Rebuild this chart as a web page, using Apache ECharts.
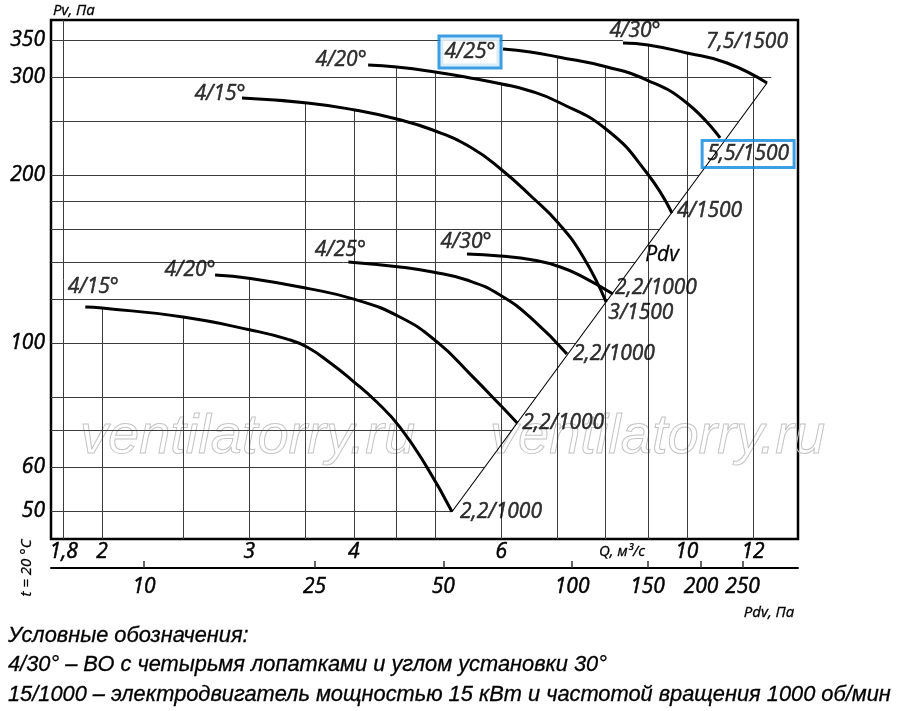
<!DOCTYPE html>
<html>
<head>
<meta charset="utf-8">
<script src="https://cdn.jsdelivr.net/npm/echarts@6/dist/echarts.min.js"></script>
<style>
  html, body { margin: 0; padding: 0; background: #fff; }
  #chart { width: 900px; height: 711px; }
</style>
</head>
<body>
<div id="chart"></div>
<script>
// fan curves, Q in m3/s, Pv in Pa (lower group 2,2 kW, upper group 1500 rpm)
const qL15 = [1.91, 2.0, 2.5, 3.01, 3.33, 3.52, 3.75, 3.99, 4.26, 4.54, 4.89, 5.24]
const pvL15 = [116.2, 115.7, 111.5, 105.7, 101.8, 98.4, 92.2, 85.6, 78.5, 70.8, 60.0, 49.9]
const qL20 = [2.73, 3.01, 3.52, 4.01, 4.54, 5.03, 5.55, 5.98, 6.27]
const pvL20 = [132.6, 130.7, 125.5, 119.9, 111.5, 100.6, 87.1, 77.6, 72.0]
const qL25 = [3.94, 4.54, 4.97, 5.46, 5.98, 6.55, 7.19]
const pvL25 = [140.0, 137.1, 134.3, 129.9, 122.1, 110.2, 95.7]
const qL30 = [5.46, 5.98, 6.55, 7.06, 7.52, 8.16]
const pvL30 = [144.7, 143.5, 141.1, 137.1, 131.5, 122.6]
const qU15 = [2.94, 3.52, 4.01, 4.50, 4.97, 5.51, 6.01, 6.53, 7.02, 7.52, 8.01]
const pvU15 = [275.4, 269.8, 262.1, 252.5, 241.3, 225.0, 204.6, 183.0, 164.4, 142.9, 118.6]
const qU20 = [4.16, 4.50, 5.00, 5.51, 6.01, 6.50, 7.02, 8.03, 8.96, 9.60]
const pvU20 = [315.6, 313.0, 306.6, 299.1, 291.8, 283.5, 270.9, 241.3, 202.1, 171.3]
const qU25 = [6.03, 6.50, 7.02, 8.03, 8.96, 10.0, 10.96]
const pvU25 = [337.1, 332.9, 326.2, 313.0, 296.6, 269.8, 233.5]
const qU30 = [8.39, 8.99, 10.0, 11.17, 12.47]
const pvU30 = [345.6, 342.8, 331.6, 318.2, 293.0]

const startText = ['4/15°', '4/20°', '4/25°', '4/30°', '4/15°', '4/20°', '4/25°', '4/30°']
const endText = ['2,2/1000', '2,2/1000', '2,2/1000', '2,2/1000', '3/1500', '4/1500', '5,5/1500', '7,5/1500']

// Pdv line ends (Q, Pv)
const pdvQ = [5.24, 12.47]
const pdvPv = [49.9, 293.0]

const qTicks = [1.8, 2, 3, 4, 6, 10, 12]
const pvTicks = [50, 60, 100, 200, 300, 350]
const pdvTicks = [10, 25, 50, 100, 150, 200, 250]

const gridQ = [1.8, 2, 2.5, 3, 3.5, 4, 4.5, 5, 6, 7, 8, 9, 10, 12]
// which curve each vertical rule stops at (-1: runs to the top)
const gridQTop = [-1, 0, 0, 1, 4, 4, 5, 5, 5, 6, 6, 7, 7, 7]
const gridPv = [50, 60, 70, 80, 100, 120, 140, 160, 180, 200, 250, 300, 350]

const Q_MIN = 1.738
const Q_MAX = 13.58
const PV_MIN = 44.6
const PV_MAX = 380
const PDV_MIN = 6.06
const PDV_MAX = 337

const FONT = 'Open Sans'
const lg = Math.log10
const fmt = v => String(Math.round(Math.pow(10, v) * 100) / 100).replace('.', ',')

const curves = [
  [qL15, pvL15], [qL20, pvL20], [qL25, pvL25], [qL30, pvL30],
  [qU15, pvU15], [qU20, pvU20], [qU25, pvU25], [qU30, pvU30]
]

// log-space interpolation along a curve
function pvAt (c, q) {
  const [qs, ps] = c
  for (let i = 1; i < qs.length; i++) {
    if (q >= qs[i - 1] && q <= qs[i]) {
      const t = (lg(q) - lg(qs[i - 1])) / (lg(qs[i]) - lg(qs[i - 1]))
      return Math.pow(10, lg(ps[i - 1]) + t * (lg(ps[i]) - lg(ps[i - 1])))
    }
  }
  return PV_MAX
}

const pdvK = lg(pdvPv[1] / pdvPv[0]) / lg(pdvQ[1] / pdvQ[0])
const qOnPdv = pv => pdvQ[0] * Math.pow(pv / pdvPv[0], 1 / pdvK)

const rules = []
gridQ.forEach((q, i) => {
  const top = gridQTop[i] < 0 ? PV_MAX : pvAt(curves[gridQTop[i]], q)
  rules.push({ coords: [[lg(q), lg(PV_MIN)], [lg(q), lg(top)]] })
})
gridPv.forEach(pv => {
  let qEnd = qOnPdv(pv)
  if (qEnd > Q_MAX) qEnd = qU30[0]
  rules.push({ coords: [[lg(Q_MIN), lg(pv)], [lg(qEnd), lg(pv)]] })
})

const startPlace = [[8, -20], [-25, -5], [-8, -12], [-1, -12], [-22, -4], [-27, -5], [-33, 3], [12, -12]]
const endPlace = [[8, 0], [5, 0], [6, 0], [2, -6], [2, 11], [5, -2], [28, 16], [-61, -41]]
const BOXED = 6

const labelFont = {
  fontSize: 21, fontStyle: 'italic', fontFamily: FONT, color: '#000',
  textBorderColor: '#000', textBorderWidth: 0.5
}
const boxStyle = { borderColor: '#0b87dc', borderWidth: 3 }

const labelData = []
curves.forEach(([qs, ps], i) => {
  const n = qs.length - 1
  const boxed = i === BOXED
  labelData.push({
    value: [lg(qs[0]), lg(ps[0])],
    label: Object.assign({
      show: true, position: 'inside', align: 'center', verticalAlign: 'middle',
      offset: startPlace[i], formatter: startText[i]
    }, labelFont, boxed ? Object.assign({ padding: [4, 4], backgroundColor: '#fff' }, boxStyle) : {})
  })
  labelData.push({
    value: [lg(qs[n]), lg(ps[n])],
    label: Object.assign({
      show: true, position: 'inside', align: boxed ? 'center' : 'left', verticalAlign: 'middle',
      offset: endPlace[i], formatter: endText[i]
    }, labelFont, boxed ? Object.assign({ padding: [3, 5] }, boxStyle) : {})
  })
})

const series = [
  {
    type: 'lines', coordinateSystem: 'cartesian2d', silent: true, z: 1,
    lineStyle: { color: '#3c3c3c', width: 1, opacity: 1 },
    data: rules
  },
  {
    type: 'lines', coordinateSystem: 'cartesian2d', silent: true, z: 2,
    lineStyle: { color: '#000', width: 1.1, opacity: 1 },
    data: [{ coords: [[lg(pdvQ[0]), lg(pdvPv[0])], [lg(pdvQ[1]), lg(pdvPv[1])]] }]
  }
]
curves.forEach(([qs, ps]) => {
  series.push({
    type: 'line', z: 3, smooth: 0.5, showSymbol: false, symbol: 'none', silent: true,
    lineStyle: { color: '#000', width: 3 },
    data: qs.map((q, j) => [lg(q), lg(ps[j])])
  })
})
series.push({
  type: 'scatter', z: 5, silent: true, symbolSize: 1,
  itemStyle: { color: 'rgba(0,0,0,0)' },
  data: labelData
})

const txt = (text, x, y, size, extra, rotation) => ({
  type: 'text', x, y, rotation: rotation || 0, silent: true,
  style: Object.assign({
    text, fill: '#000', stroke: '#000', lineWidth: 0.3,
    fontSize: size, fontStyle: 'italic', fontFamily: FONT,
    align: 'center', verticalAlign: 'middle'
  }, extra || {})
})
const mark = (x, y) => ({
  type: 'text', x, y, silent: true, z: 0,
  style: {
    text: 'ventilatorry.ru', fill: 'none', stroke: '#c4c4c4', lineWidth: 1,
    fontSize: 56, fontStyle: 'italic', fontFamily: 'Liberation Sans',
    align: 'left', verticalAlign: 'middle'
  }
})
const note = (text, y) => ({
  type: 'text', x: 8, y, silent: true,
  style: {
    text, fill: '#000', stroke: '#000', lineWidth: 0.3,
    fontSize: 21.8, fontStyle: 'italic', fontFamily: 'Liberation Sans',
    align: 'left', verticalAlign: 'middle'
  }
})

const chart = echarts.init(document.getElementById('chart'))
chart.setOption({
  animation: false,
  backgroundColor: '#fff',
  grid: {
    left: 51, right: 102, top: 20, bottom: 172,
    show: true, borderColor: '#000', borderWidth: 2.5,
    containLabel: false, outerBoundsMode: 'none'
  },
  xAxis: [
    {
      type: 'value', position: 'bottom', min: lg(Q_MIN), max: lg(Q_MAX),
      axisLine: { show: false }, axisTick: { show: false }, splitLine: { show: false },
      axisLabel: Object.assign({ customValues: qTicks.map(lg), formatter: fmt, margin: 3 }, labelFont)
    },
    {
      type: 'value', position: 'bottom', offset: 29, min: lg(PDV_MIN), max: lg(PDV_MAX),
      axisLine: { show: true, onZero: false, lineStyle: { color: '#000', width: 2 } },
      axisTick: { show: true, inside: true, length: 7, customValues: pdvTicks.map(lg), lineStyle: { color: '#333', width: 1.5 } },
      axisLabel: Object.assign({ customValues: pdvTicks.map(lg), formatter: fmt, margin: 9 }, labelFont),
      splitLine: { show: false }
    }
  ],
  yAxis: {
    type: 'value', min: lg(PV_MIN), max: lg(PV_MAX),
    axisLine: { show: false }, axisTick: { show: false }, splitLine: { show: false },
    axisLabel: Object.assign({ customValues: pvTicks.map(lg), formatter: fmt, margin: 6 }, labelFont)
  },
  graphic: [
    mark(80, 437),
    mark(490, 437),
    txt('Pv, Па', 53, 11, 15, { align: 'left' }),
    // temperature note reads bottom to top
    txt('t = 20 °C', 27, 568, 15, null, Math.PI / 2),
    txt('Q, м³/с', 622, 552, 15),
    txt('Pdv, Па', 769, 613, 15),
    txt('Pdv', 662, 255, 21),
    note('Условные обозначения:', 636),
    note('4/30° – ВО с четырьмя лопатками и углом установки 30°', 665),
    note('15/1000 – электродвигатель мощностью 15 кВт и частотой вращения 1000 об/мин', 695)
  ],
  series
})
</script>
</body>
</html>
